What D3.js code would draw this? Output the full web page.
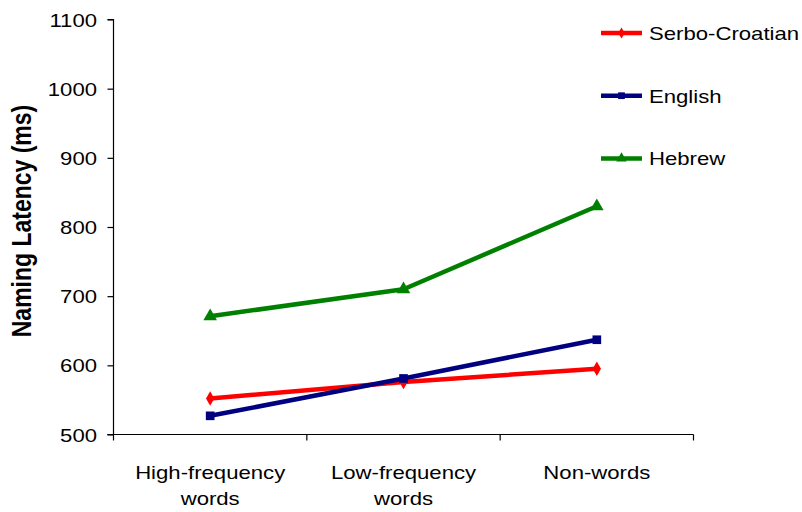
<!DOCTYPE html>
<html>
<head>
<meta charset="utf-8">
<script src="https://cdn.jsdelivr.net/npm/d3@7/dist/d3.min.js"></script>
<style>
  html, body { margin: 0; padding: 0; background: #fff; }
  svg { display: block; font-family: "Liberation Sans", Arial, sans-serif; }
</style>
</head>
<body>
<svg id="chart" width="802" height="512"></svg>
<script>
// Naming latency by stimulus type for three languages
const categories = [["High-frequency", "words"], ["Low-frequency", "words"], ["Non-words"]];
const serboCroatian = [552, 576, 595];
const english = [527, 581, 637];
const hebrew = [671, 710, 830];
const yTicks = [500, 600, 700, 800, 900, 1000, 1100];

const series = [
  { name: "Serbo-Croatian", values: serboCroatian, color: "#FF0000", symbol: d3.symbolDiamond, size: 60 },
  { name: "English", values: english, color: "#000080", symbol: d3.symbolSquare, size: 75 },
  { name: "Hebrew", values: hebrew, color: "#008000", symbol: d3.symbolTriangle, size: 80 }
];

const SX = 1.19;        // horizontal stretch applied to all text
const FONT = 18.6;

const svg = d3.select("#chart");
const plotLeft = 113.5, plotRight = 693.5, plotTop = 19.5, plotBottom = 434.5;

const x = d3.scaleBand().domain(d3.range(categories.length)).range([plotLeft, plotRight]);
const y = d3.scaleLinear().domain([500, 1100]).range([plotBottom, plotTop]);

// Y axis
const yAxis = svg.append("g")
  .attr("transform", `translate(${plotLeft},0)`)
  .call(d3.axisLeft(y).tickValues(yTicks).tickSize(6).tickPadding(8).tickFormat(d3.format("d")));
yAxis.selectAll("path, line").attr("stroke", "#000").attr("stroke-width", 1.2);
yAxis.select(".domain").attr("d", `M-6,${plotTop}H0V${plotBottom}H-6`);
yAxis.selectAll("text")
  .attr("font-size", FONT).attr("fill", "#000")
  .attr("font-family", "'Liberation Sans', Arial, sans-serif")
  .attr("x", -16.5 / SX).attr("dy", "0.35em")
  .attr("transform", `scale(${SX},1)`);

// X axis with tick marks on category boundaries
const xg = svg.append("g");
xg.append("line").attr("x1", plotLeft - 6).attr("x2", plotRight).attr("y1", plotBottom).attr("y2", plotBottom)
  .attr("stroke", "#000").attr("stroke-width", 1.2);
const bounds = d3.range(categories.length + 1).map(i => i < categories.length ? x(i) : x(i - 1) + x.bandwidth());
xg.selectAll("line.tick").data(bounds).join("line").attr("class", "tick")
  .attr("x1", d => d).attr("x2", d => d).attr("y1", plotBottom).attr("y2", plotBottom + 6)
  .attr("stroke", "#000").attr("stroke-width", 1.2);
categories.forEach((lines, i) => {
  const cx = x(i) + x.bandwidth() / 2;
  const t = xg.append("text").attr("text-anchor", "middle").attr("font-size", FONT).attr("fill", "#000")
    .attr("transform", `translate(${cx},478.5) scale(${SX},1)`);
  lines.forEach((ln, j) => t.append("tspan").attr("x", 0).attr("dy", j ? 26.7 : 0).text(ln));
});

// Y axis title
svg.append("text")
  .attr("transform", `translate(31,221) scale(${SX},1) rotate(-90)`)
  .attr("text-anchor", "middle").attr("font-size", 23).attr("font-weight", "bold").attr("fill", "#000")
  .text("Naming Latency (ms)");

// Series lines and markers
const line = d3.line().x((d, i) => x(i) + x.bandwidth() / 2).y(d => y(d));
series.forEach(s => {
  svg.append("path").datum(s.values).attr("d", line)
    .attr("fill", "none").attr("stroke", s.color).attr("stroke-width", 4.5).attr("stroke-linejoin", "round");
  svg.append("g").selectAll("path").data(s.values).join("path")
    .attr("d", d3.symbol().type(s.symbol).size(s.size))
    .attr("transform", (d, i) => `translate(${x(i) + x.bandwidth() / 2},${y(d)})`)
    .attr("fill", s.color);
});

// Legend
const legend = svg.append("g");
series.forEach((s, i) => {
  const ly = 33 + i * 62.7;
  legend.append("line").attr("x1", 601).attr("x2", 642).attr("y1", ly).attr("y2", ly)
    .attr("stroke", s.color).attr("stroke-width", 4.5);
  legend.append("path").attr("d", d3.symbol().type(s.symbol).size(s.size * 0.6))
    .attr("transform", `translate(621.5,${ly})`).attr("fill", s.color);
  legend.append("text").attr("font-size", FONT).attr("fill", "#000")
    .attr("transform", `translate(649,${ly + 7}) scale(${SX},1)`).text(s.name);
});
</script>
</body>
</html>
